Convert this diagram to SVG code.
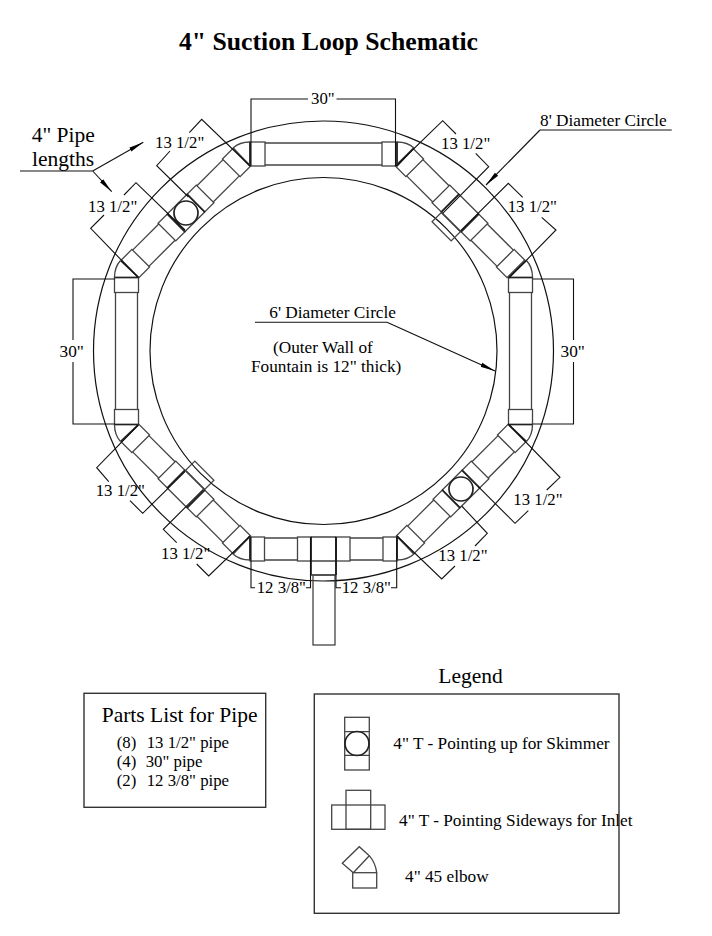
<svg xmlns="http://www.w3.org/2000/svg" xmlns:xlink="http://www.w3.org/1999/xlink" width="712" height="936" viewBox="0 0 712 936">
<style>
text{font-family:"Liberation Serif","Times New Roman",serif;fill:#000}
.t17{font-size:16.8px}
.t172{font-size:17.25px}
.t21{font-size:21.5px}
.title{font-size:25.7px;font-weight:bold}
.line{fill:none;stroke:#111;stroke-width:1.1}
.p{fill:none;stroke:#444;stroke-width:1.3}
.k{fill:none;stroke:#222;stroke-width:1.7}
.c{fill:none;stroke:#111;stroke-width:1.2}
.box{fill:none;stroke:#333;stroke-width:1.4}
</style>
<defs>
<marker id="arrow" markerUnits="userSpaceOnUse" markerWidth="16" markerHeight="8" refX="15" refY="3" orient="auto"><path d="M0,0.8L15,3L0,5.2Z" fill="#000"/></marker>
<g id="seg"><rect class="p" x="-73.5" y="-209" width="15" height="24"/><rect class="p" x="58.5" y="-209" width="15" height="24"/><path class="p" d="M-58.5,-208H58.5M-58.5,-186H58.5"/></g>
<g id="elbow"><path class="k" d="M-73.5,-185V-209M-73.5,-185L-90.5,-203"/><path class="p" d="M-73.5,-209Q-84,-209 -90.5,-203"/></g>
<g id="run"><rect class="p" x="-79" y="-12.5" width="15" height="25"/><rect class="p" x="64" y="-12.5" width="15" height="25"/><rect class="p" x="-27" y="-12.5" width="13" height="25"/><rect class="p" x="14" y="-12.5" width="13" height="25"/><path class="p" d="M-64,-11.5H-27M-64,11.5H-27M27,-11.5H64M27,11.5H64M-14,-12.5H14M-14,12.5H14"/><path class="k" d="M-14,-13V13M14,-13V13"/></g>
<rect id="branch" class="p" x="-13.5" y="13" width="27" height="13"/>
</defs>
<text class="title" x="179" y="50">4" Suction Loop Schematic</text>
<g id="circles">
<circle id="circle-8ft" class="c" cx="323.5" cy="351" r="230"/>
<circle id="circle-6ft" class="c" cx="323.5" cy="351" r="173.5"/>
</g>
<g id="loop">
<g id="pipe-top" transform="translate(323.5,351)"><use href="#seg"/></g>
<g id="pipe-right" transform="translate(323.5,351) rotate(90)"><use href="#seg"/></g>
<g id="pipe-left" transform="translate(323.5,351) rotate(270)"><use href="#seg"/></g>
<g id="pipe-bottom">
<rect class="p" x="250" y="537" width="14.5" height="24"/><rect class="p" x="297.5" y="537" width="13.5" height="24"/><rect class="p" x="336" y="537" width="14" height="24"/><rect class="p" x="383" y="537" width="14" height="24"/>
<path class="p" d="M264.5,538H297.5M264.5,560H297.5M350,538H383M350,560H383M311,537H336M311,561H336M311,575H336"/>
<path class="k" d="M311,537V575M336,537V575"/>
<rect class="p" x="313" y="575" width="22" height="70"/>
</g>
<g id="elbows" transform="translate(323.5,351)">
<use href="#elbow"/><use href="#elbow" transform="rotate(90)"/><use href="#elbow" transform="rotate(180)"/><use href="#elbow" transform="rotate(270)"/>
<use href="#elbow" transform="scale(-1,1)"/><use href="#elbow" transform="scale(-1,1) rotate(90)"/><use href="#elbow" transform="scale(-1,1) rotate(180)"/><use href="#elbow" transform="scale(-1,1) rotate(270)"/>
</g>
<g id="diag-tl" transform="translate(186,213) rotate(-45)"><use href="#run"/><circle class="k" r="12"/></g>
<g id="diag-tr" transform="translate(460,213) rotate(45)"><use href="#run"/><use href="#branch"/></g>
<g id="diag-bl" transform="translate(186,489) rotate(225)"><use href="#run"/><use href="#branch"/></g>
<g id="diag-br" transform="translate(461,489) rotate(135)"><use href="#run"/><circle class="k" r="12"/></g>
</g>
<g id="connectors">
<path class="line" d="M251,166V99H308M336.5,99H395.5V166"/>
<path class="line" d="M115,279H73V340M73,362V424H115"/>
<path class="line" d="M533,279H573.5V340M573.5,362V424H533"/>
<path class="line" d="M188.5,197L156.7,165.7L170,151M189.3,132.7L201.7,119.3L250,166"/>
<path class="line" d="M138.3,277.7L90.7,228.3L104,215M124,195L136,182.7L185,230"/>
<path class="line" d="M396,166L442.7,120.7L456,134M475.7,153.3L488.7,166.7L442.7,213.3"/>
<path class="line" d="M460.7,230.7L508.3,183.3L522.7,197.3M541.7,217.3L556,230L509,278"/>
<path class="line" d="M508.3,424L560,477.3L546.7,490M528.3,510.7L515,523.3L478.3,486.7"/>
<path class="line" d="M397,536L441.7,579L455,566M475,546L487.3,533.3L461.7,506"/>
<path class="line" d="M138.3,425L96.7,467.7L108.7,481.7M130,500.7L142.7,513.3L185,471.7"/>
<path class="line" d="M203.3,489.3L163.3,529.3L176.7,542.7M196.7,564L208.7,576L250,536"/>
<path class="line" d="M251,537V587.7H255M306,587.7H310.5V537M336,537V587.7H341M391,587.7H396.7V537"/>
<path class="line" d="M20,171H92.7" />
<path class="line" marker-end="url(#arrow)" d="M92.7,171L143.3,142.3"/>
<path class="line" marker-end="url(#arrow)" d="M92.7,171L111.7,191.7"/>
<path class="line" d="M671.7,130H540"/>
<path class="line" marker-end="url(#arrow)" d="M540,130L486,185"/>
<path class="line" d="M255,322.3H387"/>
<path class="line" marker-end="url(#arrow)" d="M387,322.3L495,371"/>
</g>
<g id="labels">
<text class="t17" x="311" y="104">30"</text>
<text class="t172" x="59.5" y="356.5">30"</text>
<text class="t172" x="560.5" y="356.5">30"</text>
<text class="t17" x="155" y="148">13 1/2"</text>
<text class="t17" x="88" y="212">13 1/2"</text>
<text class="t17" x="441" y="149.3">13 1/2"</text>
<text class="t17" x="507.7" y="212.3">13 1/2"</text>
<text class="t17" x="513.3" y="505.3">13 1/2"</text>
<text class="t17" x="438.3" y="561">13 1/2"</text>
<text class="t17" x="95.7" y="495.7">13 1/2"</text>
<text class="t17" x="161" y="558.7">13 1/2"</text>
<text class="t17" x="256.7" y="592.7">12 3/8"</text>
<text class="t17" x="341.7" y="592.7">12 3/8"</text>
<text class="t21" x="31.7" y="141.7">4" Pipe</text>
<text class="t21" x="32" y="166">lengths</text>
<text class="t172" x="540" y="125.7">8' Diameter Circle</text>
<text class="t172" x="269.3" y="318.3">6' Diameter Circle</text>
<text class="t172" x="273" y="353.3">(Outer Wall of</text>
<text class="t172" x="251" y="371.7">Fountain is 12" thick)</text>
</g>
<g id="parts-list">
<rect class="box" x="84" y="693.3" width="181.7" height="114"/>
<text class="t21" x="101.7" y="722.3">Parts List for Pipe</text>
<text class="t17" x="116.7" y="748.3">(8)</text><text class="t17" x="146.7" y="748.3">13 1/2" pipe</text>
<text class="t17" x="116.7" y="767.3">(4)</text><text class="t17" x="145.7" y="767.3">30" pipe</text>
<text class="t17" x="116.7" y="786">(2)</text><text class="t17" x="146.7" y="786">12 3/8" pipe</text>
</g>
<g id="legend">
<text class="t21" x="438.3" y="682.7">Legend</text>
<rect class="box" x="314.3" y="694" width="304.7" height="219.3"/>
<g id="legend-skimmer">
<rect class="p" x="344.7" y="717.3" width="24.6" height="52.7"/>
<path class="p" d="M344.7,731.7H369.3M344.7,755.3H369.3"/>
<circle class="k" cx="357" cy="743.5" r="12"/>
<text class="t172" x="393.3" y="749.3">4" T - Pointing up for Skimmer</text>
</g>
<g id="legend-inlet">
<rect class="p" x="331.7" y="805" width="53.3" height="24.3"/>
<rect class="p" x="346" y="790.3" width="24.7" height="39"/>
<text class="t172" x="399" y="825.7">4" T - Pointing Sideways for Inlet</text>
</g>
<g id="legend-elbow">
<rect class="p" x="352.7" y="872.7" width="24" height="15.3"/>
<path class="p" d="M353.3,872.7L342.3,863.3L359.3,846.7L369.3,855.7L353.3,872.7M369.3,855.7Q375.5,863 376.7,872.7"/>
<text class="t172" x="405" y="882.3">4" 45 elbow</text>
</g>
</g>
</svg>
